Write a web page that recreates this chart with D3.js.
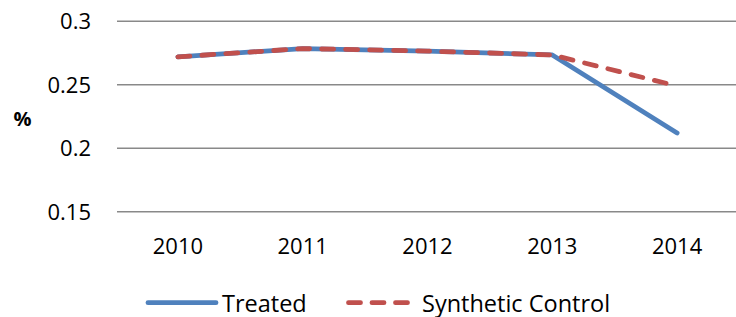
<!DOCTYPE html>
<html><head><meta charset="utf-8">
<script src="https://cdn.jsdelivr.net/npm/d3@7"></script>
<style>body{margin:0;background:#fff}svg{display:block}text{font-family:"Open Sans",Lato,sans-serif;fill:#000}</style>
</head><body>
<script>
const years = ["2010","2011","2012","2013","2014"];
const treated = [0.272, 0.2785, 0.2765, 0.2735, 0.212];
const synthetic = [0.272, 0.2785, 0.2765, 0.2735, 0.249];
const yTicks = [0.15, 0.2, 0.25, 0.3];
const yTickLabels = ["0.15", "0.2", "0.25", "0.3"];
const seriesNames = ["Treated", "Synthetic Control"];

const W = 736, H = 317;
const svg = d3.select("body").append("svg").attr("width", W).attr("height", H);

const x = d3.scaleBand().domain(years).range([115.5, 739.5]).padding(0);
const y = d3.scaleLinear().domain([0.15, 0.3]).range([211.7, 21.3]);
const cx = d => x(d) + x.bandwidth() / 2;

// gridlines
svg.append("g").selectAll("line").data(yTicks).join("line")
  .attr("x1", 117).attr("x2", W)
  .attr("y1", d => y(d)).attr("y2", d => y(d))
  .attr("stroke", "#898989").attr("stroke-width", 1.5);

// y tick labels
svg.append("g").selectAll("text").data(yTicks).join("text")
  .attr("x", 91).attr("y", d => y(d)).attr("dy", "0.36em")
  .attr("text-anchor", "end").style("font-size", "22px")
  .text((d, i) => yTickLabels[i]);

// y axis title
svg.append("text").attr("x", 22.5).attr("y", 126).attr("text-anchor", "middle")
  .style("font-size", "20px").style("font-weight", "bold").text("%");

// x labels
svg.append("g").selectAll("text").data(years).join("text")
  .attr("x", d => cx(d)).attr("y", 254).attr("text-anchor", "middle")
  .style("font-size", "22px").text(d => d);

const line = d3.line().x((d, i) => cx(years[i])).y(d => y(d));

svg.append("path").datum(treated).attr("d", line)
  .attr("fill", "none").attr("stroke", "#4F81BD").attr("stroke-width", 4.8)
  .attr("stroke-linecap", "round").attr("stroke-linejoin", "round");

svg.append("path").datum(synthetic).attr("d", line)
  .attr("fill", "none").attr("stroke", "#C0504D").attr("stroke-width", 4.8)
  .attr("stroke-linecap", "round").attr("stroke-linejoin", "round")
  .attr("stroke-dasharray", "12,12");

// legend
const lg = svg.append("g");
lg.append("line").attr("x1", 148).attr("x2", 216).attr("y1", 302.7).attr("y2", 302.7)
  .attr("stroke", "#4F81BD").attr("stroke-width", 4.8).attr("stroke-linecap", "round");
lg.append("text").attr("x", 222).attr("y", 311.5).style("font-size", "23.5px").text(seriesNames[0]);
lg.append("line").attr("x1", 348.5).attr("x2", 408).attr("y1", 302.7).attr("y2", 302.7)
  .attr("stroke", "#C0504D").attr("stroke-width", 4.8).attr("stroke-linecap", "round")
  .attr("stroke-dasharray", "12,11.5");
lg.append("text").attr("x", 422).attr("y", 311.5).style("font-size", "23.5px").text(seriesNames[1]);
</script>
</body></html>
